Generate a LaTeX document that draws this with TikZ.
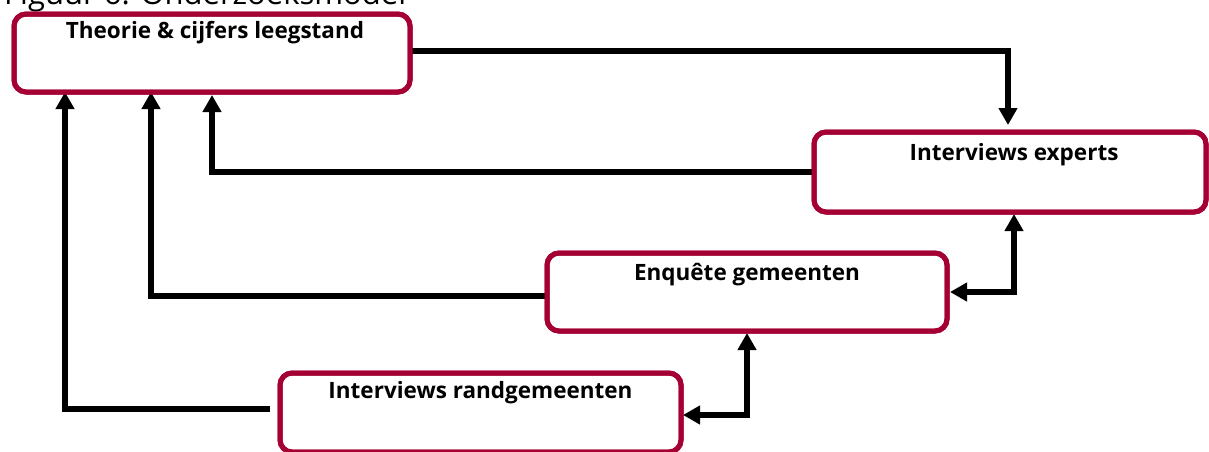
\documentclass[tikz,border=0pt]{standalone}
\usepackage{fontspec}
\setmainfont{Open Sans}
\usetikzlibrary{arrows.meta}
\definecolor{boxred}{RGB}{165,0,52}
\begin{document}
\begin{tikzpicture}[x=1pt,y=-1pt,
  stage/.style={draw=boxred, line width=5pt, rounded corners=12pt, fill=white,
    outer sep=0pt, inner sep=0pt, anchor=north west},
  stagetext/.style={anchor=base, inner sep=0pt, font=\fontsize{22.5}{26}\selectfont\bfseries},
  tip/.tip={Triangle[length=17pt,width=18pt]},
  flow/.style={line width=5.5pt, line join=miter, -tip},
  both/.style={line width=5.5pt, line join=miter, tip-tip}]
\useasboundingbox (0,0) rectangle (1209,451);

% title line above the model
\node[anchor=base west, inner sep=0pt, font=\fontsize{31}{35}\selectfont] (title) at (4,4.5) {Figuur 6: Onderzoeksmodel};

% the four research steps (boxes first as anchors for the connectors)
\path (14,14)   node[stage, minimum width=396pt, minimum height=78pt] (theo) {};
\path (814,132) node[stage, minimum width=392pt, minimum height=80pt] (exp) {};
\path (547,253) node[stage, minimum width=400pt, minimum height=78pt] (enq) {};
\path (280,373) node[stage, minimum width=401pt, minimum height=79pt] (rand) {};

% connectors
\draw[flow, shorten >=7pt] ([yshift=2pt]theo.east) -| ([xshift=-2pt]exp.north);
\draw[flow, shorten >=3pt] (exp.west) -| (theo.south);
\draw[flow] ([yshift=-4pt]enq.west) -| ([xshift=-61pt]theo.south);
\draw[flow] ([xshift=-10pt,yshift=3.5pt]rand.west) -| ([xshift=-147pt]theo.south);
\draw[both, shorten <=2pt, shorten >=3pt] ([xshift=4pt]exp.south) |- (enq.east);
\draw[both, shorten <=2pt, shorten >=2pt] (enq.south) |- ([yshift=-2.5pt]rand.east);

% redraw the box outlines on top of the connector ends
\path (14,14)   node[stage, fill=none, minimum width=396pt, minimum height=78pt] (theoB) {};
\path (814,132) node[stage, fill=none, minimum width=392pt, minimum height=80pt] (expB) {};
\path (547,253) node[stage, fill=none, minimum width=400pt, minimum height=78pt] (enqB) {};
\path (280,373) node[stage, fill=none, minimum width=401pt, minimum height=79pt] (randB) {};

% box labels
\node[stagetext] (theoT) at ([xshift=3pt,yshift=-24pt]theo.north) {Theorie \& cijfers leegstand};
\node[stagetext] (expT)  at ([xshift=4pt,yshift=-28pt]exp.north) {Interviews experts};
\node[stagetext] (enqT)  at ([yshift=-27pt]enq.north) {Enquête gemeenten};
\node[stagetext] (randT) at ([yshift=-25pt]rand.north) {Interviews randgemeenten};
\end{tikzpicture}
\end{document}
